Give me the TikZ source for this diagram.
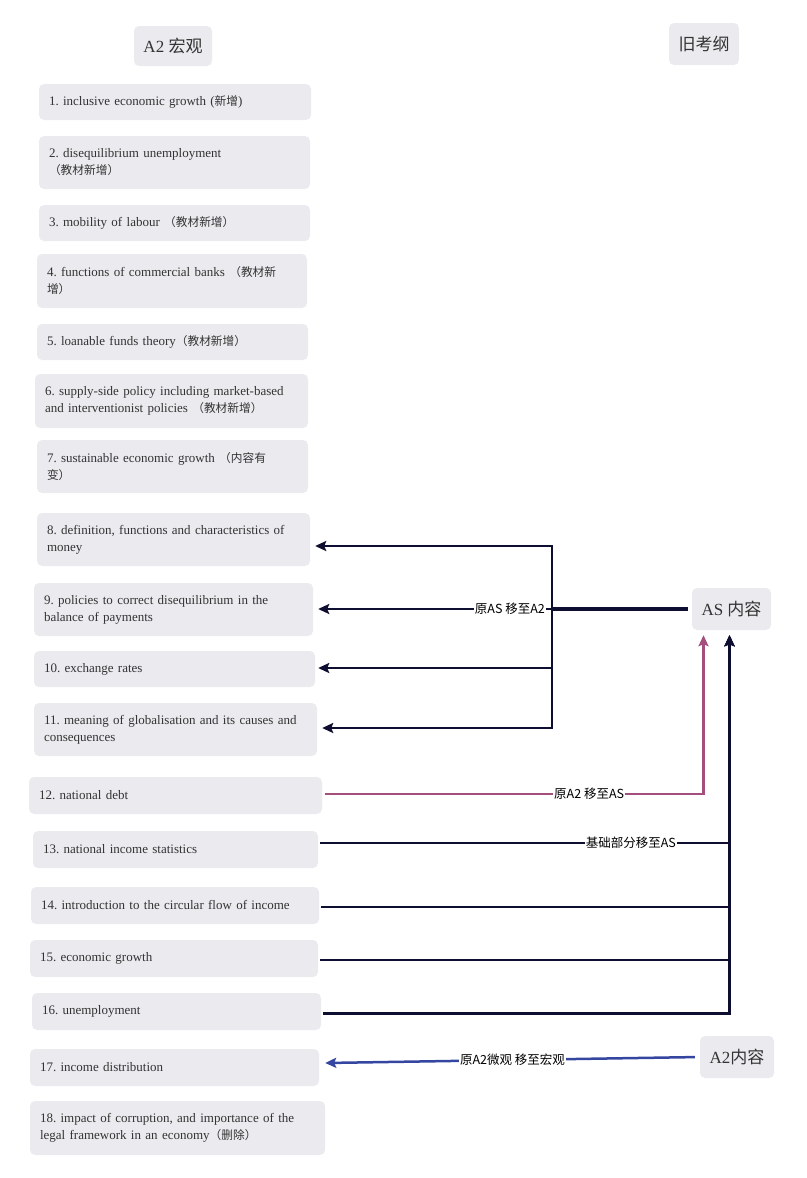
\documentclass[tikz,border=0pt]{standalone}
\usepackage{fontspec}
\setmainfont{Liberation Serif}
\newfontfamily\cjk{Noto Sans CJK SC}
\newfontfamily\cjks[Scale=0.9]{Noto Sans CJK SC}
\newcommand\zh[1]{{\cjks #1}}
\newcommand\zhb[1]{{\cjk #1}}
\usetikzlibrary{arrows.meta}
\definecolor{boxfill}{HTML}{EBEAEE}
\definecolor{txt}{HTML}{333333}
\definecolor{navy}{HTML}{0E0E30}
\definecolor{pinkc}{HTML}{A34E7C}
\definecolor{bluec}{HTML}{3546A0}
\tikzset{
 itembox/.style={fill=boxfill, rounded corners=5pt, align=left, inner xsep=10pt, inner ysep=3pt, font=\fontsize{13}{17}\selectfont\frenchspacing, text=txt, anchor=center},
 headbox/.style={fill=boxfill, rounded corners=5pt, font=\fontsize{17}{20}\selectfont, text=txt, inner sep=0pt, anchor=center},
 conn/.style={line width=2.5pt, draw=navy, -{Stealth[length=11pt,width=10pt,inset=2pt]}},
 lbl/.style={fill=white, font=\cjk\fontsize{12.5}{14}\selectfont, text=black, inner sep=1pt},
}
\newcommand\itm[6]{%
 \pgfmathsetmacro\myTW{#4-#2-20}%
 \pgfmathsetmacro\myHH{#5-#3}%
 \pgfmathsetmacro\myCX{(#2+#4)/2}%
 \pgfmathsetmacro\myCY{(#3+#5)/2}%
 \node[itembox, text width=\myTW pt, minimum height=\myHH pt] (#1) at (\myCX,\myCY) {#6};}
\newcommand\hbx[6]{%
 \pgfmathsetmacro\myTW{#4-#2}%
 \pgfmathsetmacro\myHH{#5-#3}%
 \pgfmathsetmacro\myCX{(#2+#4)/2}%
 \pgfmathsetmacro\myCY{(#3+#5)/2}%
 \node[headbox, minimum width=\myTW pt, minimum height=\myHH pt] (#1) at (\myCX,\myCY) {#6};}
\begin{document}
\begin{tikzpicture}[x=1pt,y=-1pt]
\useasboundingbox (0,0) rectangle (806,1178);
% headers
\hbx{hA2}{134}{26}{212}{66}{A2 \zhb{宏观}}
\hbx{hOld}{669}{23}{739}{65}{\zhb{旧考纲}}
\hbx{AS}{692}{588}{771}{630}{AS \zhb{内容}}
\hbx{A2n}{700}{1036}{774}{1078}{A2\zhb{内容}}
% items
\itm{i1}{39}{84}{311}{120}{1. inclusive economic growth (\zh{新增})}
\itm{i2}{39}{136}{310}{189}{2. disequilibrium unemployment\\\zh{（教材新增）}}
\itm{i3}{39}{205}{310}{241}{3. mobility of labour \zh{（教材新增）}}
\itm{i4}{37}{254}{307}{308}{4. functions of commercial banks \zh{（教材新}\\\zh{增）}}
\itm{i5}{37}{324}{308}{360}{5. loanable funds theory\zh{（教材新增）}}
\itm{i6}{35}{374}{308}{428}{6. supply-side policy including market-based\\and interventionist policies \zh{（教材新增）}}
\itm{i7}{37}{440}{308}{493}{7. sustainable economic growth \zh{（内容有}\\\zh{变）}}
\itm{i8}{37}{513}{310}{566}{8. definition, functions and characteristics of\\money}
\itm{i9}{34}{583}{313}{636}{9. policies to correct disequilibrium in the\\balance of payments}
\itm{i10}{34}{651}{315}{687}{10. exchange rates}
\itm{i11}{34}{703}{317}{756}{11. meaning of globalisation and its causes and\\consequences}
\itm{i12}{29}{777}{322}{814}{12. national debt}
\itm{i13}{33}{831}{318}{868}{13. national income statistics}
\itm{i14}{31}{887}{319}{924}{14. introduction to the circular flow of income}
\itm{i15}{30}{940}{318}{977}{15. economic growth}
\itm{i16}{32}{993}{321}{1030}{16. unemployment}
\itm{i17}{30}{1049}{319}{1086}{17. income distribution}
\itm{i18}{30}{1101}{325}{1155}{18. impact of corruption, and importance of the\\legal framework in an economy\zh{（删除）}}
% AS -> 8..11
\coordinate (J) at (552,609);
\draw[navy, line width=4.5pt, shorten <=4pt] (AS.west) -- (J);
\draw[conn, shorten <=4pt] (AS.west) -- (J) |- ([xshift=5pt,yshift=-6.5pt]i8.east);
\draw[conn, shorten <=4pt] (AS.west) -- (J) -- ([xshift=5pt,yshift=0.5pt]i9.east) node[lbl, pos=0.18] {原AS 移至A2};
\draw[conn, shorten <=4pt] (AS.west) -- (J) |- ([xshift=3pt,yshift=1pt]i10.east);
\draw[conn, shorten <=4pt] (AS.west) -- (J) |- ([xshift=5pt,yshift=1.5pt]i11.east);
% 12 -> AS
\draw[conn, draw=pinkc, line width=2.3pt, shorten <=3pt, shorten >=5pt] ([yshift=1.5pt]i12.east) -| ([xshift=-28pt]AS.south) node[lbl, pos=0.35] {原A2 移至AS};
% 13..16 -> AS
\draw[conn, shorten <=2pt, shorten >=5pt] ([yshift=6.5pt]i13.east) -| ([xshift=-2pt]AS.south) node[lbl, pos=0.38] {基础部分移至AS};
\draw[conn, shorten <=2pt, shorten >=5pt] ([yshift=-1.5pt]i14.east) -| ([xshift=-2pt]AS.south);
\draw[conn, shorten <=2pt, shorten >=5pt] ([yshift=-1.5pt]i15.east) -| ([xshift=-2pt]AS.south);
\draw[conn, shorten <=2pt, shorten >=5pt, line width=3pt] ([yshift=-1.5pt]i16.east) -| ([xshift=-2pt]AS.south);
% A2 -> 17
\draw[conn, draw=bluec, shorten <=5pt] (A2n.west) -- ([xshift=6pt,yshift=4.5pt]i17.east) node[lbl, midway] {原A2微观 移至宏观};
\end{tikzpicture}
\end{document}
